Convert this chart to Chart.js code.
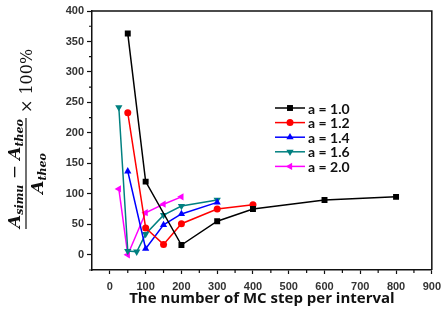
<!DOCTYPE html>
<html>
<head>
<meta charset="utf-8">
<script src="https://cdn.jsdelivr.net/npm/chart.js@4.4.0/dist/chart.umd.min.js"></script>
<style>
  body { margin: 0; background: #fff; }
  canvas { display: block; }
</style>
</head>
<body>
<canvas id="chart" width="447" height="320"></canvas>
<script>
// MC steps per interval and relative error (%) for each a
const labels = ['a = 1.0', 'a = 1.2', 'a = 1.4', 'a = 1.6', 'a = 2.0'];
const steps10 = [50, 100, 200, 300, 400, 600, 800];
const err10 = [363, 120, 16, 55, 75, 90, 95];
const steps12 = [50, 100, 150, 200, 300, 400];
const err12 = [233, 44, 17, 51, 75, 82];
const steps14 = [50, 100, 150, 200, 300];
const err14 = [137, 10, 49, 67, 86];
const steps16 = [25, 50, 75, 100, 150, 200, 300];
const err16 = [242, 6, 5, 34, 65, 80, 90];
const steps20 = [25, 50, 100, 150, 200];
const err20 = [108, 0, 69, 83, 95];
const xTicks = [0, 100, 200, 300, 400, 500, 600, 700, 800, 900];
const yTicks = [0, 50, 100, 150, 200, 250, 300, 350, 400];

const colors = ['#000000', '#ff0000', '#0000ff', '#008080', '#ff00ff'];
const styles = [
  { pointStyle: 'rect', radius: 4.2, rotation: 0 },
  { pointStyle: 'circle', radius: 3.5, rotation: 0 },
  { pointStyle: 'triangle', radius: 4.2, rotation: 0 },
  { pointStyle: 'triangle', radius: 4.2, rotation: 180 },
  { pointStyle: 'triangle', radius: 4.2, rotation: -90 }
];
const series = [[steps10, err10], [steps12, err12], [steps14, err14], [steps16, err16], [steps20, err20]];

const tickFont = { family: 'Liberation Sans', size: 11, weight: 'bold' };

function toPoints(xs, ys) {
  return xs.map((x, i) => ({ x: x, y: ys[i] }));
}

function marker(ctx, st, color, x, y) {
  ctx.save();
  ctx.fillStyle = color;
  ctx.translate(x, y);
  ctx.rotate(st.rotation * Math.PI / 180);
  const r = st.radius;
  ctx.beginPath();
  if (st.pointStyle === 'rect') {
    const s = r * Math.SQRT1_2;
    ctx.rect(-s, -s, 2 * s, 2 * s);
  } else if (st.pointStyle === 'circle') {
    ctx.arc(0, 0, r, 0, Math.PI * 2);
  } else {
    ctx.moveTo(0, -r);
    ctx.lineTo(r * Math.sin(Math.PI * 2 / 3), -r * Math.cos(Math.PI * 2 / 3));
    ctx.lineTo(-r * Math.sin(Math.PI * 2 / 3), -r * Math.cos(Math.PI * 2 / 3));
    ctx.closePath();
  }
  ctx.fill();
  ctx.restore();
}

// draws a run of text pieces; returns width
function run(ctx, parts, x, y, draw) {
  let w = 0;
  parts.forEach(p => {
    ctx.font = p.font;
    if (draw) ctx.fillText(p.t, x + w, y + (p.dy || 0));
    w += ctx.measureText(p.t).width;
  });
  return w;
}

const extras = {
  id: 'extras',
  afterDraw(chart) {
    const ctx = chart.ctx;
    const a = chart.chartArea;
    const xs = chart.scales.x, ys = chart.scales.y;
    ctx.save();
    // frame top and right
    ctx.strokeStyle = '#111';
    ctx.lineWidth = 1.5;
    ctx.beginPath();
    ctx.moveTo(a.left, a.top);
    ctx.lineTo(a.right, a.top);
    ctx.lineTo(a.right, a.bottom);
    ctx.stroke();
    // minor ticks
    ctx.lineWidth = 1.2;
    ctx.beginPath();
    for (let v = 50; v < 900; v += 100) {
      const px = xs.getPixelForValue(v);
      ctx.moveTo(px, a.bottom);
      ctx.lineTo(px, a.bottom + 3);
    }
    for (let v = -25; v < 400; v += 50) {
      const py = ys.getPixelForValue(v);
      ctx.moveTo(a.left, py);
      ctx.lineTo(a.left - 3, py);
    }
    ctx.stroke();

    // legend
    ctx.textBaseline = 'middle';
    labels.forEach((lab, i) => {
      const y = 108 + i * 14.6;
      ctx.strokeStyle = colors[i];
      ctx.lineWidth = 1.5;
      ctx.beginPath();
      ctx.moveTo(275, y);
      ctx.lineTo(305, y);
      ctx.stroke();
      marker(ctx, styles[i], colors[i], 290, y);
      ctx.fillStyle = '#111';
      ctx.font = 'bold 14px Lato';
      ctx.fillText(lab, 308, y + 1);
    });

    // y axis title as a fraction
    ctx.translate(26, 173.5);
    ctx.rotate(-Math.PI / 2);
    ctx.fillStyle = '#111';
    ctx.textBaseline = 'alphabetic';
    const big = 'bold italic 17px "DejaVu Serif"';
    const sub = 'bold italic 11px "DejaVu Serif"';
    const num = [
      { t: 'A', font: big }, { t: 'simu', font: sub, dy: 3 },
      { t: ' \u2212 ', font: '17px "DejaVu Serif"' },
      { t: 'A', font: big }, { t: 'theo', font: sub, dy: 3 }
    ];
    const den = [{ t: 'A', font: big }, { t: 'theo', font: sub, dy: 3 }];
    const nw = run(ctx, num, 0, 0, false);
    const dw = run(ctx, den, 0, 0, false);
    const L = Math.max(nw, dw) + 2;
    run(ctx, num, -nw / 2, -6, true);
    run(ctx, den, -dw / 2, 17, true);
    ctx.lineWidth = 1.2;
    ctx.strokeStyle = '#111';
    ctx.beginPath();
    ctx.moveTo(-L / 2, 0);
    ctx.lineTo(L / 2, 0);
    ctx.stroke();
    ctx.font = '16px "DejaVu Serif"';
    ctx.fillText('\u00d7 100%', L / 2 + 5, 6);
    ctx.restore();
  }
};

new Chart(document.getElementById('chart').getContext('2d'), {
  type: 'line',
  data: {
    datasets: series.map((s, i) => ({
      label: labels[i],
      data: toPoints(s[0], s[1]),
      borderColor: colors[i],
      backgroundColor: colors[i],
      borderWidth: 1.5,
      pointStyle: styles[i].pointStyle,
      pointRadius: styles[i].radius,
      pointRotation: styles[i].rotation,
      pointBorderWidth: 0,
      tension: 0,
      fill: false
    }))
  },
  options: {
    responsive: false,
    animation: false,
    layout: { padding: { top: 11, right: 7, left: 0, bottom: 0 } },
    plugins: { legend: { display: false }, tooltip: { enabled: false } },
    scales: {
      x: {
        type: 'linear',
        min: -50,
        max: 900,
        afterBuildTicks: s => { s.ticks = xTicks.map(v => ({ value: v })); },
        afterFit: s => { s.height = 50; },
        grid: { drawOnChartArea: false, tickLength: 4, tickWidth: 1.2, tickColor: '#111' },
        border: { color: '#111', width: 1.5 },
        ticks: { font: tickFont, color: '#333', padding: 6, maxRotation: 0, autoSkip: false },
        title: {
          display: true,
          text: 'The number of MC step per interval',
          font: { family: 'Open Sans', size: 15, weight: 'bold' },
          color: '#111',
          padding: { top: 0, bottom: 12 }
        }
      },
      y: {
        min: -25,
        max: 400,
        afterBuildTicks: s => { s.ticks = yTicks.map(v => ({ value: v })); },
        afterFit: s => { s.width = 92; },
        grid: { drawOnChartArea: false, tickLength: 5, tickWidth: 1.2, tickColor: '#111' },
        border: { color: '#111', width: 1.5 },
        ticks: { font: tickFont, color: '#333', padding: 3 }
      }
    }
  },
  plugins: [extras]
});
</script>
</body>
</html>
